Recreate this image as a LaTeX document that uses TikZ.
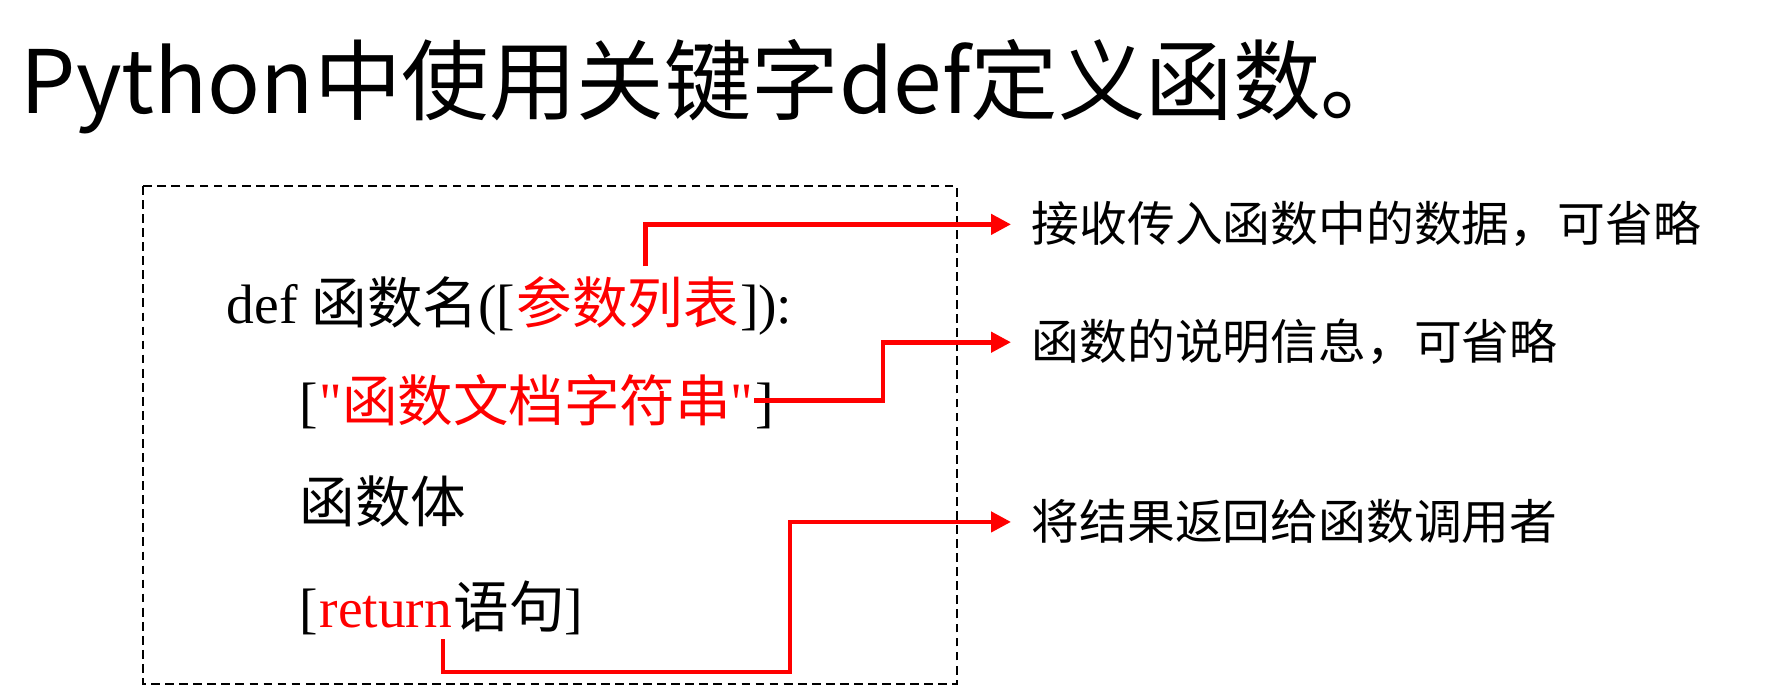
\documentclass[tikz,border=0pt]{standalone}
\usepackage{fontspec}
\setmainfont{Liberation Serif}[Ligatures=TeXOff]
\newfontfamily\cjk{Noto Sans CJK SC}
\usetikzlibrary{arrows.meta}

\begin{document}
\begin{tikzpicture}
        \tikzstyle{code} = [inner sep=0pt, anchor=base west, font=\fontsize{15.8}{18}\selectfont]
        \tikzstyle{hl} = [text=red]
        \tikzstyle{note} = [inner xsep=2mm, inner ysep=0pt, anchor=base west, font=\cjk\fontsize{13.6}{16}\selectfont]
        \tikzstyle{conn} = [red, line width=1.3pt, -{Triangle[length=2mm, width=2mm]}]

        \useasboundingbox (0,0) rectangle (17.7,-6.88);

        \node (title) [anchor=base west, inner sep=0pt, font=\cjk\fontsize{24.9}{29}\selectfont] at (0.2,-1.14) {Python中使用关键字def定义函数。};

        \draw [dash pattern=on 2.5pt off 1.5pt, line width=0.8pt] (1.43,-1.86) rectangle (9.57,-6.84);

        % def line
        \node (defhead) [code] at (2.26,-3.24) {def {\cjk 函数名}([};
        \node (params) [code, hl] at (defhead.base east) {\cjk 参数列表};
        \node (deftail) [code] at (params.base east) {]):};

        % docstring
        \node (docl) [code] at (2.99,-4.22) {[};
        \node (doc) [code, hl] at (docl.base east) {"{\cjk 函数文档字符串}"};
        \node (docr) [code] at (doc.base east) {]};

        \node (body) [code] at (2.99,-5.23) {\cjk 函数体};

        % return
        \node (retl) [code] at (2.99,-6.28) {[};
        \node (ret) [code, hl] at (retl.base east) {return};
        \node (retr) [code] at (ret.base east) {{\cjk 语句}]};

        \node (lbl1) [note] at (10.11,-2.42) {接收传入函数中的数据，可省略};
        \node (lbl2) [note] at (10.11,-3.60) {函数的说明信息，可省略};
        \node (lbl3) [note] at (10.11,-5.40) {将结果返回给函数调用者};

        \coordinate (bend2) at (8.83,0 |- lbl2.west);
        \coordinate (bend3) at (7.90,-6.72);

        \draw [conn] ([xshift=1.8mm, yshift=1mm]params.north) |- (lbl1.west);
        \draw [conn] (doc.east) -| (bend2) -- (lbl2.west);
        \draw [conn] ([xshift=-1mm, yshift=-1mm]ret.south east) |- (bend3) |- (lbl3.west);

    \end{tikzpicture}
\end{document}
